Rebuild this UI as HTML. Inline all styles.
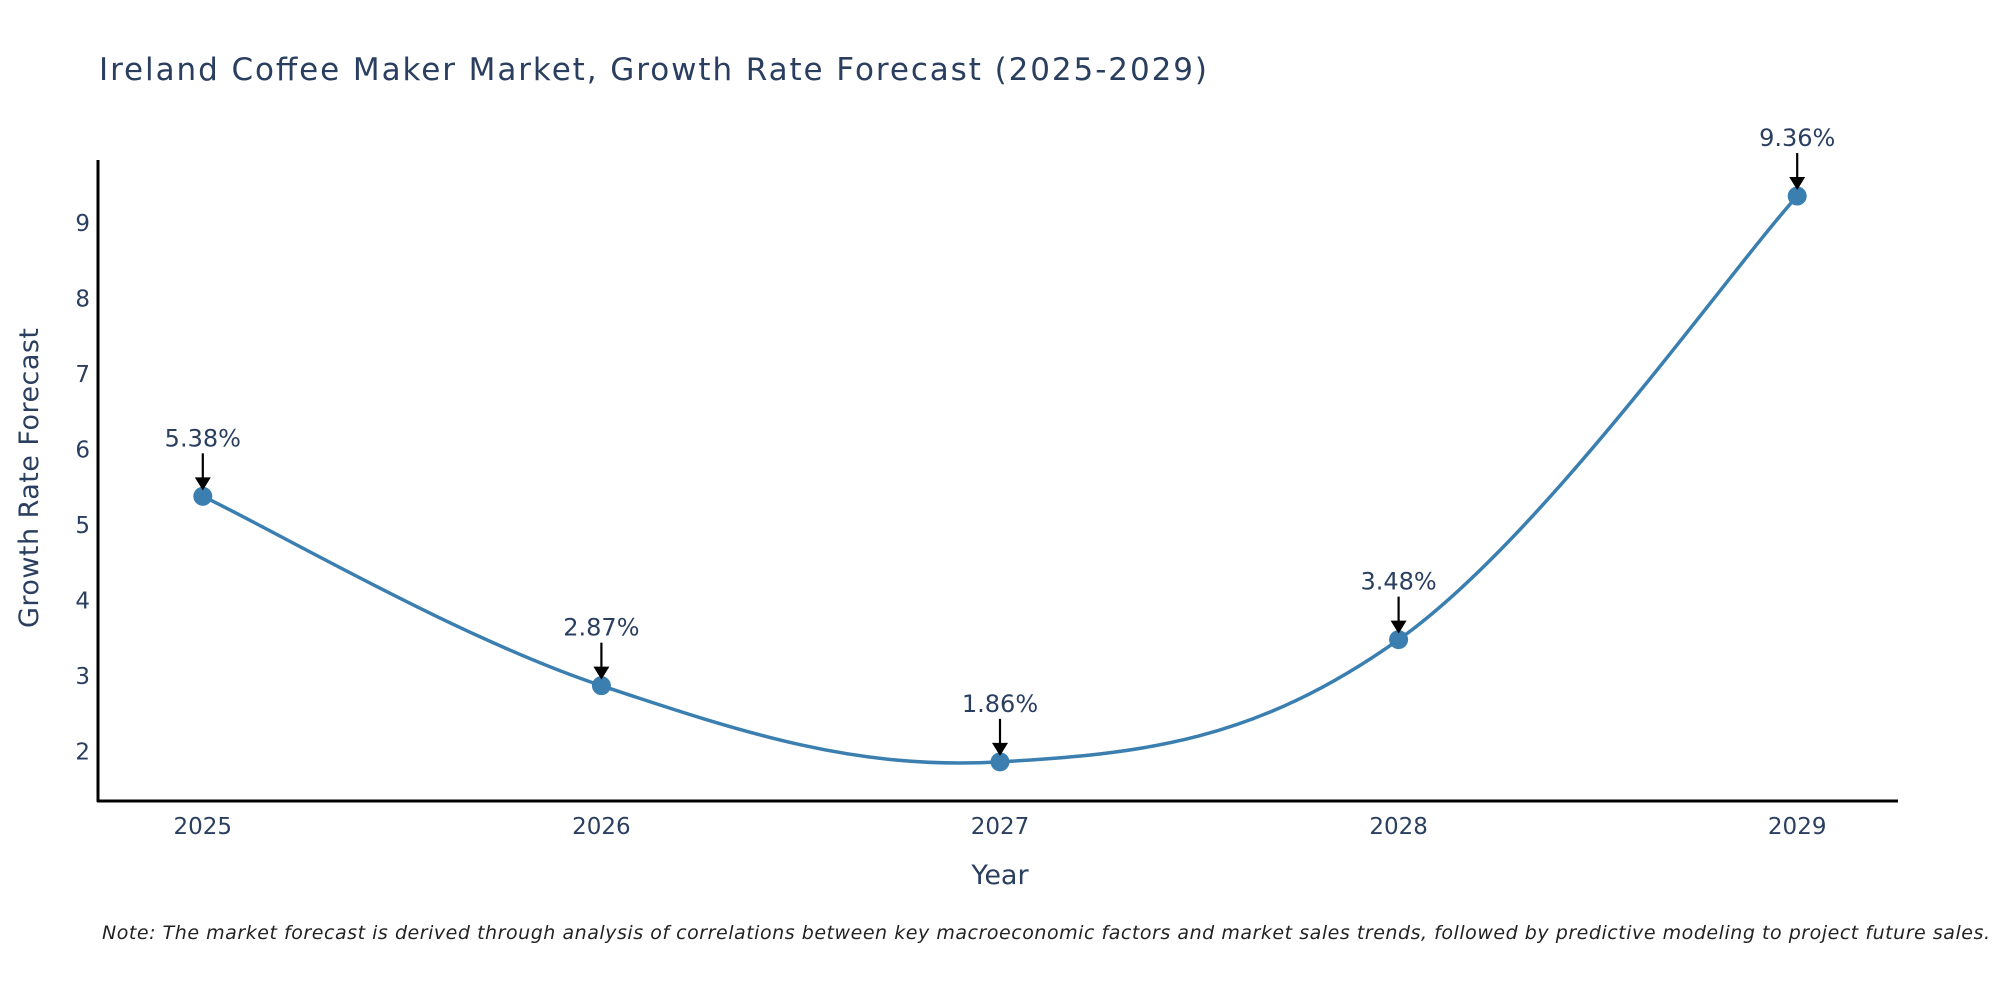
<!DOCTYPE html>
<html><head><meta charset="utf-8"><style>
html,body{margin:0;padding:0;background:#fff;}
svg{display:block;font-family:"DejaVu Sans","Liberation Sans",sans-serif;}
</style></head><body>
<svg id="chart" width="2000" height="1000">
<text x="99" y="80" font-size="31" fill="#2a3f5f" textLength="1108">Ireland Coffee Maker Market, Growth Rate Forecast (2025-2029)</text>
<g id="axes"></g>
<g id="series"></g>
<text x="1000" y="884" font-size="27" fill="#2a3f5f" text-anchor="middle">Year</text>
<text transform="translate(38,478) rotate(-90)" font-size="27" fill="#2a3f5f" text-anchor="middle" textLength="300">Growth Rate Forecast</text>
<text x="102" y="939" font-size="19" font-style="italic" fill="#222" textLength="1888">Note: The market forecast is derived through analysis of correlations between key macroeconomic factors and market sales trends, followed by predictive modeling to project future sales.</text>
</svg>
<script>
const years=[2025,2026,2027,2028,2029];
const values=[5.38,2.87,1.86,3.48,9.36];
const labels=["5.38%","2.87%","1.86%","3.48%","9.36%"];
const yTicks=[2,3,4,5,6,7,8,9];
const NS="http://www.w3.org/2000/svg";
const xs=y=>202.8+(y-2025)*398.6;
const ys=v=>751.3-(v-2)*75.44;
function mk(tag,attrs,parent,text){const e=document.createElementNS(NS,tag);for(const k in attrs)e.setAttribute(k,attrs[k]);if(text!==undefined)e.textContent=text;parent.appendChild(e);return e;}
const axes=document.getElementById('axes'),ser=document.getElementById('series');
let a=mk('line',{x1:98,y1:160,x2:98,y2:802,stroke:'#000','stroke-width':3},axes);


a=mk('line',{x1:97,y1:801,x2:1898,y2:801,stroke:'#000','stroke-width':3},axes);


yTicks.forEach(t=>{const e=mk('text',{x:90,y:ys(t)+8,'font-size':23,fill:'#2a3f5f','text-anchor':'end'},axes,String(t));

});
years.forEach(y=>{const e=mk('text',{x:xs(y),y:834,'font-size':23,fill:'#2a3f5f','text-anchor':'middle'},axes,String(y));

});
const P=years.map((y,i)=>[xs(y),ys(values[i])]);
let d=`M${P[0][0]},${P[0][1]}`;const s=0.36;
for(let i=0;i<P.length-1;i++){const p0=P[Math.max(0,i-1)],p1=P[i],p2=P[i+1],p3=P[Math.min(P.length-1,i+2)];
const c1=[p1[0]+(p2[0]-p0[0])*s/2,p1[1]+(p2[1]-p0[1])*s/2],c2=[p2[0]-(p3[0]-p1[0])*s/2,p2[1]-(p3[1]-p1[1])*s/2];
d+=` C${c1[0]},${c1[1]} ${c2[0]},${c2[1]} ${p2[0]},${p2[1]}`;}
const line=mk('path',{d:d,fill:'none',stroke:'#3a7fb0','stroke-width':3.5},ser);


P.forEach((p,i)=>{const c=mk('circle',{cx:p[0],cy:p[1],r:9.5,fill:'#3a7fb0'},ser);


const ar=mk('line',{x1:p[0],y1:p[1]-43,x2:p[0],y2:p[1]-18,stroke:'#000','stroke-width':2.2},ser);


const hd=mk('polygon',{points:`${p[0]-8},${p[1]-19} ${p[0]+8},${p[1]-19} ${p[0]},${p[1]-6}`,fill:'#000'},ser);


const t=mk('text',{x:p[0],y:p[1]-50,'font-size':24,fill:'#2a3f5f','text-anchor':'middle'},ser,labels[i]);

});
</script>
</body></html>
